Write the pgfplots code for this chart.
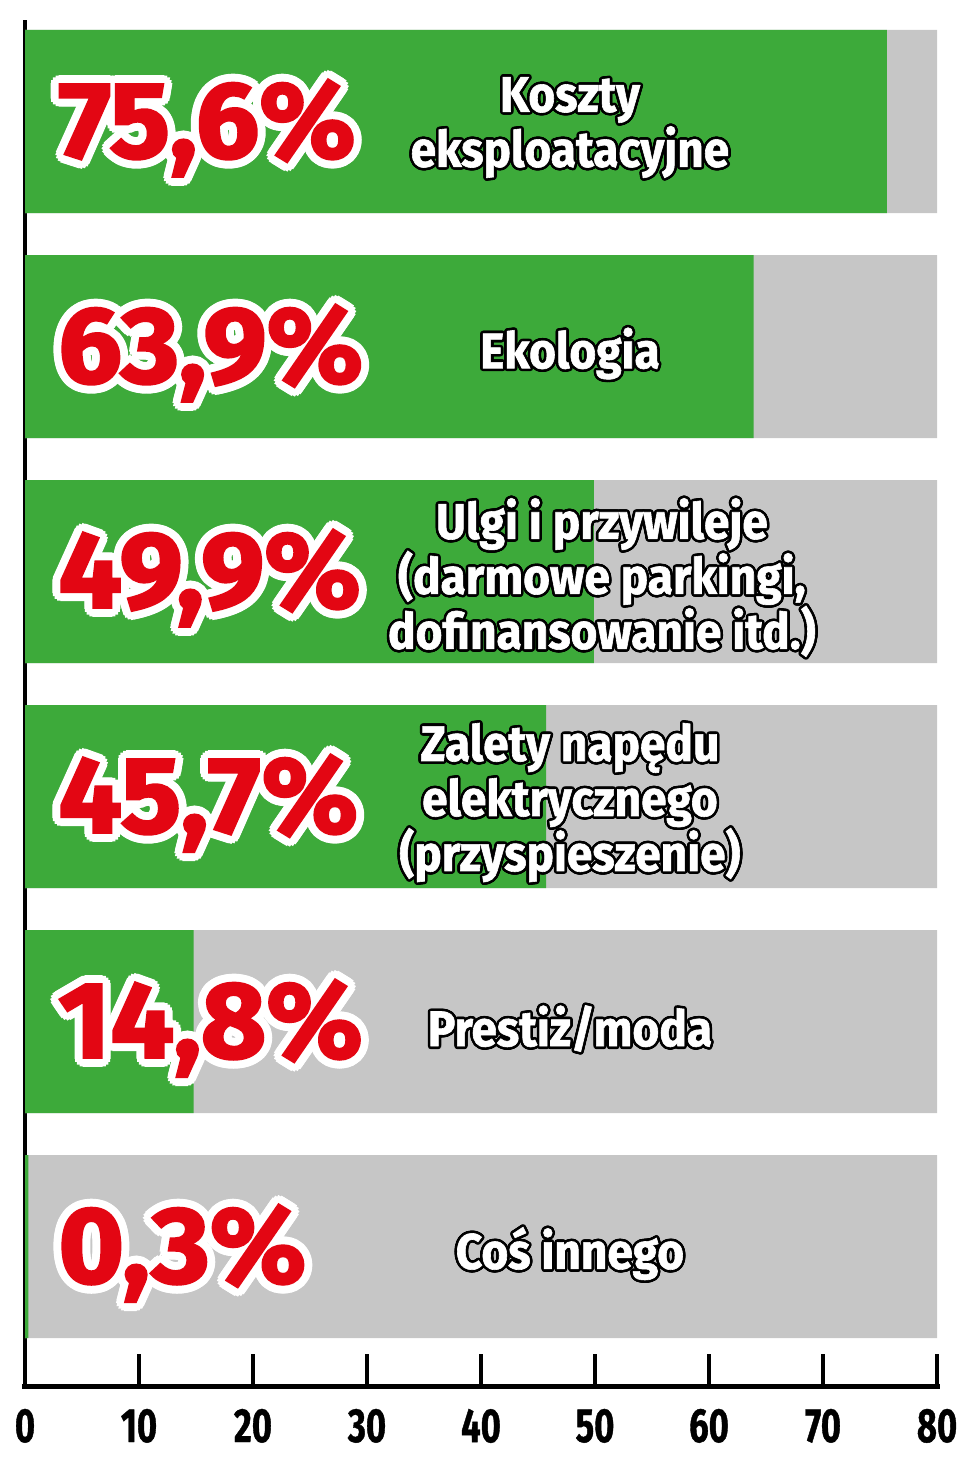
\documentclass[border=0pt]{standalone}
\usepackage{pgfplots}
\pgfplotsset{compat=1.18}
\usepackage{pgfplotstable}
\usepackage{fontspec}
\setmainfont{Fira Sans}
\newfontfamily\tickfont[FakeStretch=0.72, FakeBold=0.8]{Fira Sans}
\newfontfamily\catfont[FakeStretch=0.92, FakeBold=1.2]{Fira Sans}
\newfontfamily\pctfont[FakeStretch=1.04, FakeBold=2.5]{Fira Sans}
\definecolor{bargreen}{HTML}{3DAA3A}
\definecolor{bargray}{HTML}{C6C6C6}
\definecolor{pctred}{HTML}{E30613}

\newlength\outr
\newsavebox\outbox
\newcommand\ocopy[2]{\rlap{\kern#1\outr\raise#2\outr\copy\outbox}}
\newcommand\outl[4]{%
  \setlength\outr{#1}%
  \sbox\outbox{\color{#2}#4}%
  \ocopy{1}{0}\ocopy{0.924}{0.383}\ocopy{0.707}{0.707}\ocopy{0.383}{0.924}%
  \ocopy{0}{1}\ocopy{-0.383}{0.924}\ocopy{-0.707}{0.707}\ocopy{-0.924}{0.383}%
  \ocopy{-1}{0}\ocopy{-0.924}{-0.383}\ocopy{-0.707}{-0.707}\ocopy{-0.383}{-0.924}%
  \ocopy{0}{-1}\ocopy{0.383}{-0.924}\ocopy{0.707}{-0.707}\ocopy{0.924}{-0.383}%
  \ocopy{0.55}{0}\ocopy{0.389}{0.389}\ocopy{0}{0.55}\ocopy{-0.389}{0.389}%
  \ocopy{-0.55}{0}\ocopy{-0.389}{-0.389}\ocopy{0}{-0.55}\ocopy{0.389}{-0.389}%
  {\color{#3}#4}}
\newcommand\pct[1]{\outl{4pt}{white}{pctred}{\pctfont\bfseries\fontsize{54}{54}\selectfont #1}}
\newcommand\cat[1]{\outl{1.3pt}{black}{white}{\parbox{12cm}{\centering\catfont\bfseries\fontsize{25}{27.5}\selectfont #1}}}

\pgfplotstableread{
y v
0 75.6
-1 63.9
-2 49.9
-3 45.7
-4 14.8
-5 0.3
}\shares
\pgfplotstableread{
y v
0 80
-1 80
-2 80
-3 80
-4 80
-5 80
}\full

\begin{document}
\begin{tikzpicture}
\begin{axis}[
  x=5.7pt, y=112.5pt,
  xmin=0, xmax=80, ymin=-5.622, ymax=0.451,
  axis x line=bottom, axis y line=left,
  axis line style={-},
  x axis line style={line width=2.75pt, line cap=rect},
  y axis line style={line width=2pt},
  xtick={0,10,...,80},
  xticklabels={0,10,20,30,40,50,60,70,80},
  ytick=\empty,
  tick align=inside,
  major tick length=16.5pt,
  tick style={line width=2pt, black},
  xticklabel style={font=\tickfont\bfseries\fontsize{24}{24}\selectfont, inner sep=0pt, anchor=north, yshift=-11pt},
  clip=false,
  xbar, bar shift=0pt, bar width=91.5pt,
]
\addplot[draw=none, fill=bargray] table[x=v, y=y] {\full};
\addplot[draw=none, fill=bargreen] table[x=v, y=y] {\shares};

\node[anchor=base west, inner sep=0pt, yshift=-18pt] at (axis cs:2.9,0) {\pct{75,6\%}};
\node[anchor=base west, inner sep=0pt, yshift=-18pt] at (axis cs:2.9,-1) {\pct{63,9\%}};
\node[anchor=base west, inner sep=0pt, yshift=-18pt] at (axis cs:2.9,-2) {\pct{49,9\%}};
\node[anchor=base west, inner sep=0pt, yshift=-18pt] at (axis cs:2.9,-3) {\pct{45,7\%}};
\node[anchor=base west, inner sep=0pt, yshift=-18pt] at (axis cs:2.9,-4) {\pct{14,8\%}};
\node[anchor=base west, inner sep=0pt, yshift=-18pt] at (axis cs:2.9,-5) {\pct{0,3\%}};

\node[inner sep=0pt, yshift=-3pt] at (axis cs:47.8,0) {\cat{Koszty\\eksploatacyjne}};
\node[inner sep=0pt, yshift=-3.5pt] at (axis cs:47.8,-1) {\cat{Ekologia}};
\node[inner sep=0pt, yshift=-3pt] at (axis cs:50.6,-2) {\cat{Ulgi i przywileje\\(darmowe parkingi,\\dofinansowanie itd.)}};
\node[inner sep=0pt, yshift=-3pt] at (axis cs:47.8,-3) {\cat{Zalety napędu\\elektrycznego\\(przyspieszenie)}};
\node[inner sep=0pt, yshift=-3.5pt] at (axis cs:47.8,-4) {\cat{Prestiż/moda}};
\node[inner sep=0pt, yshift=-3.5pt] at (axis cs:47.8,-5) {\cat{Coś innego}};

\path (axis cs:-2.193,0.54) rectangle (axis cs:83.07,-5.993);
\end{axis}
\end{tikzpicture}
\end{document}
